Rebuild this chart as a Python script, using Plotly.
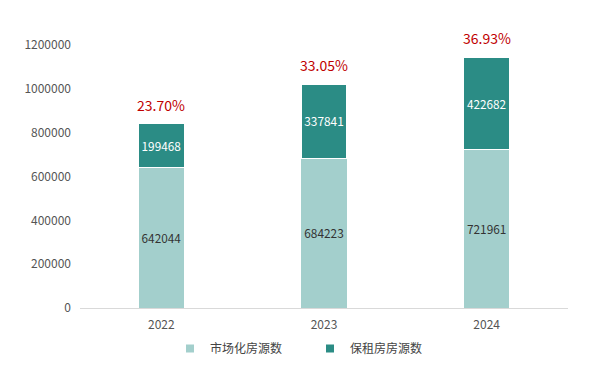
import plotly.graph_objects as go

years = ["2022", "2023", "2024"]
market = [642044, 684223, 721961]
affordable = [199468, 337841, 422682]
ratio_labels = ["23.70%", "33.05%", "36.93%"]
y_ticks = [0, 200000, 400000, 600000, 800000, 1000000, 1200000]
series_names = ["市场化房源数", "保租房房源数"]
series_colors = ["#a3cfcc", "#2b8c85"]

font_family = "Noto Sans CJK SC, Noto Sans, sans-serif"

fig = go.Figure()
fig.add_trace(go.Bar(
    x=years, y=market, name=series_names[0], showlegend=False,
    marker=dict(color=series_colors[0], line=dict(width=0)),
    text=[str(v) for v in market], textposition="inside", insidetextanchor="middle",
    textangle=0, textfont=dict(color="#333333", size=12),
))
fig.add_trace(go.Bar(
    x=years, y=affordable, name=series_names[1], showlegend=False,
    marker=dict(color=series_colors[1], line=dict(color="white", width=1)),
    text=[str(v) for v in affordable], textposition="inside", insidetextanchor="middle",
    textangle=0, textfont=dict(color="white", size=12),
))
# legend entries with small square symbols
for nm, col in zip(series_names, series_colors):
    fig.add_trace(go.Scatter(x=[None], y=[None], mode="markers", name=nm,
                             marker=dict(symbol="square", size=8, color=col)))

totals = [m + a for m, a in zip(market, affordable)]
for i, (tot, lab) in enumerate(zip(totals, ratio_labels)):
    fig.add_annotation(x=i, y=tot, xref="x", yref="y", text=lab, showarrow=False,
                       yshift=19, font=dict(color="#c00000", size=14, family=font_family))

fig.update_layout(
    width=590, height=372,
    barmode="stack", bargap=0.72,
    plot_bgcolor="white", paper_bgcolor="white",
    margin=dict(l=80, r=22, t=45, b=64, autoexpand=False),
    font=dict(family=font_family, size=12, color="#555555"),
    showlegend=True,
    legend=dict(orientation="h", xref="container", yref="container",
                x=170 / 590, xanchor="left", y=1 - 334 / 372, yanchor="top",
                font=dict(size=12, color="#444444"), entrywidth=95, traceorder="normal",
                itemwidth=30),
    uniformtext=dict(mode=False),
)
fig.update_yaxes(range=[0, 1200000], tickvals=y_ticks, ticktext=[str(v) for v in y_ticks],
                 showgrid=False, zeroline=False, showline=False, ticks="", ticklabelstandoff=8,
                 automargin=False)
fig.update_xaxes(type="category", range=[-0.5, 2.5], showline=True, linecolor="#d9d9d9",
                 linewidth=1, ticks="", showgrid=False, ticklabelstandoff=6, automargin=False)

fig.write_html("out.html", config={"displayModeBar": False},
               post_script="document.body.style.margin='0';document.body.style.overflow='hidden';")
